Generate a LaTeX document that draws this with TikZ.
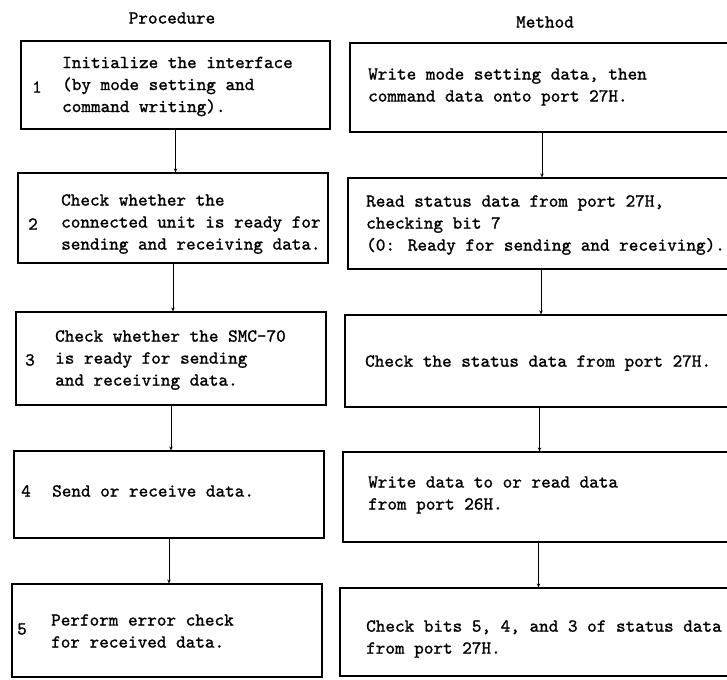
\documentclass[tikz,border=0pt]{standalone}
\usepackage{fontspec}
\newfontfamily\tw{lmmono10-regular}[Extension=.otf, FakeBold=1.2]
\usetikzlibrary{arrows.meta}
\begin{document}
\begin{tikzpicture}[x=1pt,y=-1pt,
  box/.style={draw, line width=1.2pt, rectangle, inner sep=0pt},
  txt/.style={anchor=west, align=left, inner sep=0pt, font=\tw\fontsize{18.3}{22}\selectfont},
  num/.style={inner sep=0pt, font=\tw\fontsize{18.3}{22}\selectfont},
  arr/.style={line width=1pt, -{Stealth[length=4pt,width=3.5pt]}}]
\useasboundingbox (0,0) rectangle (727,679);
\clip (0,0) rectangle (727,679);
% titles
\node[num] (hp) at (172,18) {Procedure};
\node[num] (hm) at (545,22) {Method};
% left boxes
\node[box, minimum width=309pt, minimum height=88pt] (b1) at (175.5,85) {};
\node[box, minimum width=310pt, minimum height=90pt] (b2) at (173,218) {};
\node[box, minimum width=310pt, minimum height=93pt] (b3) at (171,358.5) {};
\node[box, minimum width=310pt, minimum height=87pt] (b4) at (169,494.5) {};
\node[box, minimum width=310pt, minimum height=93pt] (b5) at (167,630.5) {};
% right boxes
\node[box, minimum width=384pt, minimum height=89pt] (r1) at (542,87.5) {};
\node[box, minimum width=386pt, minimum height=91pt] (r2) at (541,223.5) {};
\node[box, minimum width=389pt, minimum height=92pt] (r3) at (539.5,361) {};
\node[box, minimum width=391pt, minimum height=90pt] (r4) at (538.5,497) {};
\node[box, minimum width=394pt, minimum height=88pt] (r5) at (537,632) {};
% numbers
\node[num] (n1) at (37,87) {1};
\node[num] (n2) at (33,224) {2};
\node[num] (n3) at (30,360) {3};
\node[num] (n4) at (26,491) {4};
\node[num] (n5) at (22,629) {5};
% left texts
\node[txt] (t1) at (62,86.5) {Initialize the interface\\(by mode setting and\\command writing).};
\node[txt] (t2) at (61,224) {Check whether the\\connected unit is ready for\\sending and receiving data.};
\node[txt] (t3) at (55,360) {Check whether the SMC-70\\is ready for sending\\and receiving data.};
\node[txt] (t4) at (52,491) {Send or receive data.};
\node[txt] (t5) at (51,631) {Perform error check\\for received data.};
% right texts
\node[txt] (s1) at (368,87) {Write mode setting data, then\\command data onto port 27H.};
\node[txt] (s2) at (366,225) {Read status data from port 27H,\\checking bit 7\\(0: Ready for sending and receiving).};
\node[txt] (s3) at (365,363) {Check the status data from port 27H.};
\node[txt] (s4) at (368,495) {Write data to or read data\\from port 26H.};
\node[txt] (s5) at (366,639) {Check bits 5, 4, and 3 of status data\\from port 27H.};
% connectors
\draw[arr] (b1.south) -- (b1.south |- b2.north);
\draw[arr] (b2.south) -- (b2.south |- b3.north);
\draw[arr] (b3.south) -- (b3.south |- b4.north);
\draw[arr] (b4.south) -- (b4.south |- b5.north);
\draw[arr] (r1.south) -- (r1.south |- r2.north);
\draw[arr] (r2.south) -- (r2.south |- r3.north);
\draw[arr] (r3.south) -- (r3.south |- r4.north);
\draw[arr] (r4.south) -- (r4.south |- r5.north);
\end{tikzpicture}
\end{document}
